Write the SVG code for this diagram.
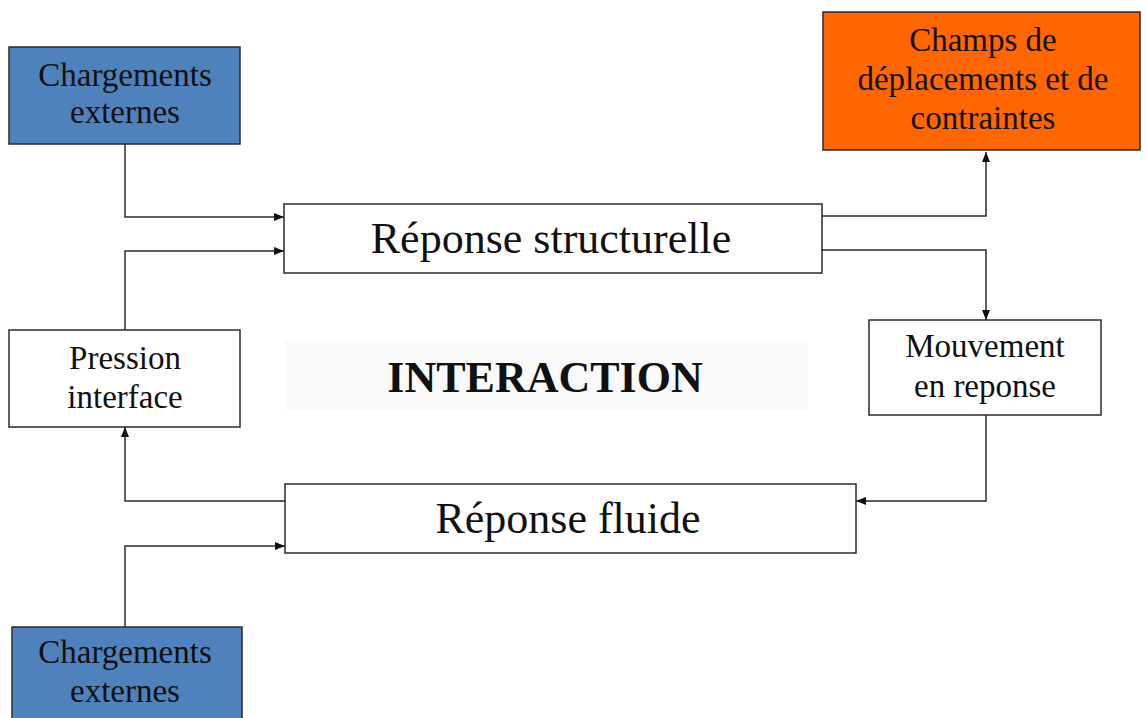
<svg xmlns="http://www.w3.org/2000/svg" width="1146" height="718" viewBox="0 0 1146 718">
  <style>
    .box { stroke: #2b2b2b; stroke-width: 1.5; }
    .blue { fill: #4f81bd; }
    .orange { fill: #ff6600; }
    .plain { fill: #ffffff; }
    .t { font-family: "Liberation Serif", "Times New Roman", serif; fill: #111; text-anchor: middle; }
    .s { font-size: 33px; }
    .l { font-size: 44px; }
    .b { font-weight: bold; }
    .wire { fill: none; stroke: #2b2b2b; stroke-width: 1.5; }
  </style>
  <defs>
    <marker id="arrow" viewBox="0 0 10 8" refX="10" refY="4" markerWidth="10" markerHeight="8" markerUnits="userSpaceOnUse" orient="auto">
      <path d="M0,0 L10,4 L0,8 Z" fill="#111"/>
    </marker>
  </defs>

  <rect width="1146" height="718" fill="#ffffff"/>

  <!-- connectors -->
  <g id="connectors">
    <path class="wire" d="M125,144 V217 H284" marker-end="url(#arrow)"/>
    <path class="wire" d="M125,330 V251 H284" marker-end="url(#arrow)"/>
    <path class="wire" d="M822,216 H986 V152" marker-end="url(#arrow)"/>
    <path class="wire" d="M822,250 H986 V320" marker-end="url(#arrow)"/>
    <path class="wire" d="M986,415 V501 H856" marker-end="url(#arrow)"/>
    <path class="wire" d="M285,501 H125 V427" marker-end="url(#arrow)"/>
    <path class="wire" d="M125,627 V546 H285" marker-end="url(#arrow)"/>
  </g>

  <g id="chargements-haut">
    <rect class="box blue" x="9" y="47" width="231" height="97"/>
    <text class="t s" x="125" y="86">Chargements</text>
    <text class="t s" x="125" y="123">externes</text>
  </g>

  <g id="champs">
    <rect class="box orange" x="823" y="12" width="317" height="138"/>
    <text class="t s" x="983" y="51">Champs de</text>
    <text class="t s" x="983" y="90">déplacements et de</text>
    <text class="t s" x="983" y="129">contraintes</text>
  </g>

  <g id="reponse-structurelle">
    <rect class="box plain" x="284" y="204" width="538" height="69"/>
    <text class="t l" x="551" y="253">Réponse structurelle</text>
  </g>

  <g id="pression">
    <rect class="box plain" x="9" y="330" width="231" height="97"/>
    <text class="t s" x="125" y="369">Pression</text>
    <text class="t s" x="125" y="408">interface</text>
  </g>

  <g id="interaction">
    <rect x="285" y="341" width="523" height="69" fill="#fafafa"/>
    <text class="t l b" x="545" y="392">INTERACTION</text>
  </g>

  <g id="mouvement">
    <rect class="box plain" x="869" y="320" width="232" height="95"/>
    <text class="t s" x="985" y="357">Mouvement</text>
    <text class="t s" x="985" y="397">en reponse</text>
  </g>

  <g id="reponse-fluide">
    <rect class="box plain" x="285" y="484" width="571" height="69"/>
    <text class="t l" x="568" y="533">Réponse fluide</text>
  </g>

  <g id="chargements-bas">
    <rect class="box blue" x="12" y="627" width="230" height="100"/>
    <text class="t s" x="125" y="663">Chargements</text>
    <text class="t s" x="125" y="702">externes</text>
  </g>
</svg>
